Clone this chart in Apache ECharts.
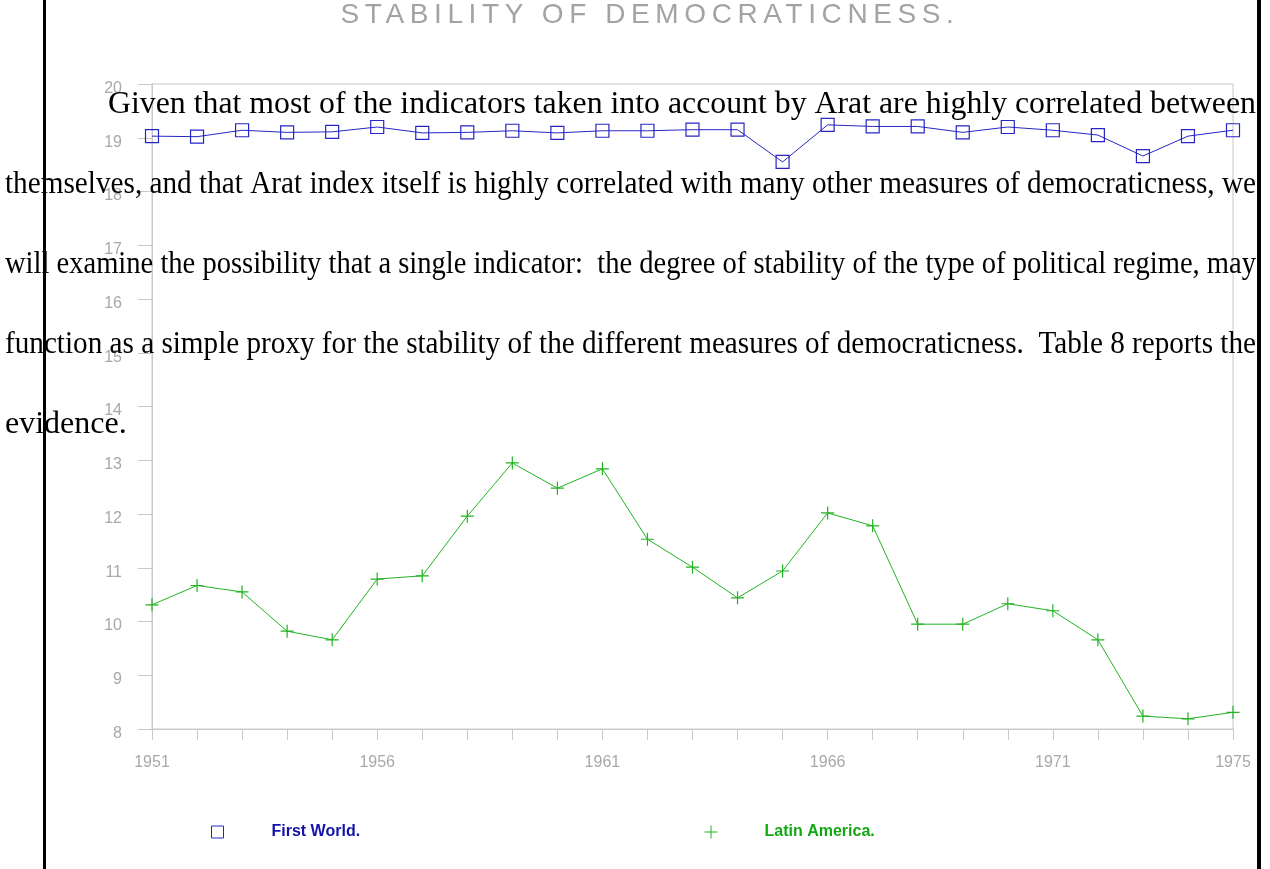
<!DOCTYPE html>
<html>
<head>
<meta charset="utf-8">
<script src="https://cdn.jsdelivr.net/npm/echarts@6/dist/echarts.min.js"></script>
<style>
  html, body { margin: 0; padding: 0; background: #fff; }
  #wrap { position: relative; width: 1270px; height: 869px; overflow: hidden; }
  #chart { position: absolute; left: 0; top: 0; width: 1270px; height: 869px; }
  #title {
    position: absolute; left: 0; width: 1300px; top: -2px; text-align: center;
    font: 28px "Liberation Sans", Arial, sans-serif; letter-spacing: 5.6px; color: #a3a3a3;
    pointer-events: none;
  }
</style>
</head>
<body>
<div id="wrap">
  <div id="chart"></div>
  <div id="title">STABILITY OF DEMOCRATICNESS.</div>
</div>
<script>
// data
const years = ['1951', '1952', '1953', '1954', '1955', '1956', '1957', '1958', '1959', '1960',
  '1961', '1962', '1963', '1964', '1965', '1966', '1967', '1968', '1969', '1970',
  '1971', '1972', '1973', '1974', '1975'];
const labelYears = ['1951', '1956', '1961', '1966', '1971', '1975'];

const firstWorld = [19.03, 19.02, 19.14, 19.10, 19.11, 19.20, 19.09, 19.10, 19.13, 19.09,
  19.13, 19.13, 19.15, 19.15, 18.55, 19.24, 19.21, 19.21, 19.10, 19.20,
  19.14, 19.05, 18.66, 19.03, 19.14];
const latinAmerica = [10.31, 10.67, 10.55, 9.82, 9.66, 10.79, 10.85, 11.96, 12.95, 12.48,
  12.84, 11.53, 11.01, 10.44, 10.94, 12.02, 11.78, 9.95, 9.95, 10.33,
  10.20, 9.66, 8.24, 8.19, 8.31];

const paragraph = [
  'Given that most of the indicators taken into account by Arat are highly correlated between',
  'themselves, and that Arat index itself is highly correlated with many other measures of democraticness, we',
  'will examine the possibility that a single indicator:  the degree of stability of the type of political regime, may',
  'function as a simple proxy for the stability of the different measures of democraticness.  Table 8 reports the',
  'evidence.'
];

const blue = '#2626c4';
const green = '#22b322';
const gray = '#c8c8c8';
const labelGray = '#a8a8a8';

// paragraph lines, squeezed to the justified width
const paraFont = '32px "Liberation Serif", "Times New Roman", serif';
const measure = document.createElement('canvas').getContext('2d');
measure.font = paraFont;
const textEls = paragraph.map((line, i) => {
  const left = i === 0 ? 108 : 5;
  const right = 1256;
  const w = measure.measureText(line).width;
  const sx = i === paragraph.length - 1 ? 1 : (right - left) / w;
  return {
    type: 'text', x: left, y: 105 + i * 80, scaleX: sx, z: 100,
    style: { text: line, font: paraFont, fill: '#000', verticalAlign: 'middle', align: 'left' }
  };
});

const chart = echarts.init(document.getElementById('chart'));
chart.setOption({
  animation: false,
  backgroundColor: '#fff',
  grid: { left: 152, right: 37, top: 84, bottom: 140, show: true, borderColor: gray, borderWidth: 1 },
  xAxis: {
    type: 'category',
    data: years,
    boundaryGap: false,
    axisLine: { lineStyle: { color: gray } },
    axisTick: { show: true, interval: 0, length: 11, lineStyle: { color: gray } },
    axisLabel: {
      interval: (idx, val) => labelYears.indexOf(val) >= 0,
      color: labelGray, fontSize: 16, fontFamily: 'Liberation Sans, Arial', margin: 26
    },
    splitLine: { show: false }
  },
  yAxis: {
    type: 'value',
    min: 8, max: 20, interval: 1,
    axisLine: { show: true, lineStyle: { color: gray } },
    axisTick: { show: true, length: 14, lineStyle: { color: gray } },
    axisLabel: {
      color: labelGray, fontSize: 16, fontFamily: 'Liberation Sans, Arial', margin: 30,
      verticalAlign: 'top', lineHeight: 9
    },
    splitLine: { show: false }
  },
  legend: [
    {
      left: 206, top: 819, itemWidth: 12, itemHeight: 12,
      data: [{
        name: 'First World.', icon: 'rect',
        itemStyle: { color: 'rgba(0,0,0,0)', borderColor: blue, borderWidth: 1 },
        textStyle: { color: '#1212a8', fontSize: 16, fontWeight: 'bold', fontFamily: 'Liberation Sans, Arial', padding: [0, 0, 0, 43] }
      }]
    },
    {
      left: 699, top: 819, itemWidth: 13, itemHeight: 13,
      data: [{
        name: 'Latin America.', icon: 'path://M0,6H12M6,0V12',
        itemStyle: { color: 'rgba(0,0,0,0)', borderColor: green, borderWidth: 1 },
        textStyle: { color: '#12a812', fontSize: 16, fontWeight: 'bold', fontFamily: 'Liberation Sans, Arial', padding: [0, 0, 0, 42] }
      }]
    }
  ],
  series: [
    {
      name: 'First World.', type: 'line', data: firstWorld,
      symbol: 'rect', symbolSize: 13, showAllSymbol: true,
      lineStyle: { color: blue, width: 1 },
      itemStyle: { color: 'rgba(0,0,0,0)', borderColor: blue, borderWidth: 1.2 }
    },
    {
      name: 'Latin America.', type: 'line', data: latinAmerica,
      symbol: 'path://M0,6H12M6,0V12', symbolSize: 13, showAllSymbol: true,
      lineStyle: { color: green, width: 1 },
      itemStyle: { color: 'rgba(0,0,0,0)', borderColor: green, borderWidth: 1.2 }
    }
  ],
  graphic: textEls.concat([
    { type: 'rect', z: 110, shape: { x: 43, y: 0, width: 3, height: 869 }, style: { fill: '#000' } },
    { type: 'rect', z: 110, shape: { x: 1257, y: 0, width: 4, height: 869 }, style: { fill: '#000' } }
  ])
});
</script>
</body>
</html>
